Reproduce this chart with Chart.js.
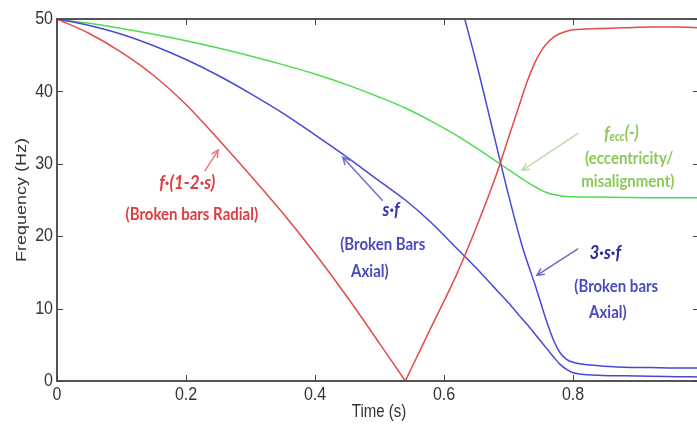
<!DOCTYPE html>
<html>
<head>
<meta charset="utf-8">
<script src="https://cdn.jsdelivr.net/npm/chart.js@4.4.0/dist/chart.umd.min.js"></script>
<style>
  html, body { margin: 0; padding: 0; background: #fff; overflow: hidden; }
  #wrap { position: absolute; left: 0; top: 0; width: 710px; height: 425px; }
</style>
</head>
<body>
<div id="wrap"><canvas id="chart" width="710" height="425"></canvas></div>
<script>
// time axis (s)
const time = [0, 0.05, 0.1, 0.15, 0.2, 0.25, 0.3, 0.35, 0.4, 0.45, 0.5, 0.54, 0.58, 0.62, 0.65, 0.68, 0.7, 0.72, 0.73, 0.74, 0.75, 0.76, 0.77, 0.78, 0.79, 0.8, 0.84, 0.88, 0.92, 0.96, 1.0];

// f·(1-2·s)  broken bars radial
const radial = [50, 48.0, 45.4, 42.2, 38.2, 33.4, 28.4, 23.2, 17.6, 11.6, 5.2, 0, 7.4, 14.8, 21.2, 28.2, 33.6, 39.0, 41.6, 43.8, 45.5, 46.7, 47.5, 48.0, 48.3, 48.5, 48.7, 48.8, 48.9, 48.9, 48.8];
// s·f  broken bars axial
const axial = [50, 49.1, 47.9, 46.3, 44.4, 42.2, 39.7, 37.0, 34.0, 30.9, 27.6, 25.0, 21.9, 18.3, 15.6, 12.7, 10.8, 8.7, 7.7, 6.6, 5.5, 4.4, 3.3, 2.3, 1.6, 1.15, 0.8, 0.72, 0.65, 0.6, 0.55];
// 3·s·f  (only the part that is inside the plot)
const axial3 = [null, null, null, null, null, null, null, null, null, null, null, null, null, 54, 44, 33, 25.7, 19.0, 16.2, 13.6, 10.8, 8.0, 5.6, 3.9, 3.0, 2.6, 2.1, 1.9, 1.85, 1.8, 1.8];
// f_ecc  eccentricity / misalignment
const ecc = [50, 49.4, 48.7, 47.9, 47.0, 46.0, 44.9, 43.7, 42.4, 40.9, 39.2, 37.7, 35.9, 33.9, 32.2, 30.4, 29.2, 28.0, 27.4, 26.9, 26.4, 26.0, 25.75, 25.6, 25.5, 25.45, 25.4, 25.35, 25.3, 25.3, 25.3];

const xTicks = [0, 0.2, 0.4, 0.6, 0.8];
const yTicks = [0, 10, 20, 30, 40, 50];

const RED = '#e34a4a';
const BLUE = '#4848d8';
const GREEN = '#4fdc4f';

function pts(arr, from = 0, to = time.length - 1) {
  const out = [];
  for (let i = from; i <= to; i++) out.push({ x: time[i], y: arr[i] });
  return out;
}
// the radial line has a sharp V where it touches zero
const vIdx = radial.indexOf(0);

// text notes: [text, t, value, color, font]
const notes = [
  ['f·(1-2·s)', 0.202, 27.4, '#e23a40', 'italic bold 17px Lato'],
  ['(Broken bars Radial)', 0.209, 23.0, '#e23a40', 'bold 15px Lato'],
  ['s·f', 0.518, 23.6, '#3434b0', 'italic bold 17px Lato'],
  ['(Broken Bars', 0.505, 18.9, '#4a4ac0', 'bold 15px Lato'],
  ['Axial)', 0.485, 15.2, '#4a4ac0', 'bold 15px Lato'],
  ['(eccentricity/', 0.887, 30.8, '#8cc85a', 'bold 15px Lato'],
  ['misalignment)', 0.885, 27.5, '#8cc85a', 'bold 15px Lato'],
  ['3·s·f', 0.85, 17.7, '#2a2aa0', 'italic bold 17px Lato'],
  ['(Broken bars', 0.867, 13.1, '#4a4ac0', 'bold 15px Lato'],
  ['Axial)', 0.854, 9.5, '#4a4ac0', 'bold 15px Lato']
];
// arrows: [t0, v0, t1, v1, color]  (tail -> head)
const arrows = [
  [0.229, 29.0, 0.25, 31.9, '#ec7a7a'],
  [0.505, 24.9, 0.443, 30.9, '#7070cc'],
  [0.808, 34.2, 0.721, 29.1, '#c0dca8'],
  [0.808, 18.3, 0.744, 14.6, '#6a6ad0']
];

function stretchText(ctx, txt, x, y, sy) {
  ctx.save();
  ctx.translate(x, y);
  ctx.scale(1, sy);
  ctx.fillText(txt, 0, 0);
  ctx.restore();
}

const decor = {
  id: 'decor',
  afterDatasetsDraw(chart) {
    const ctx = chart.ctx;
    const xs = chart.scales.x, ys = chart.scales.y;
    const a = chart.chartArea;
    ctx.save();
    // frame
    ctx.strokeStyle = '#555';
    ctx.lineWidth = 2;
    ctx.beginPath();
    ctx.moveTo(a.right, a.top); ctx.lineTo(a.left, a.top);
    ctx.lineTo(a.left, a.bottom); ctx.lineTo(a.right, a.bottom);
    ctx.lineTo(a.right, a.top);
    ctx.stroke();
    // inward ticks
    ctx.lineWidth = 1;
    ctx.strokeStyle = '#444';
    ctx.beginPath();
    xTicks.forEach(v => {
      const px = Math.round(xs.getPixelForValue(v)) + 0.5;
      ctx.moveTo(px, a.bottom); ctx.lineTo(px, a.bottom - 6);
      ctx.moveTo(px, a.top); ctx.lineTo(px, a.top + 6);
    });
    yTicks.forEach(v => {
      const py = Math.round(ys.getPixelForValue(v)) + 0.5;
      ctx.moveTo(a.left, py); ctx.lineTo(a.left + 6, py);
      ctx.moveTo(a.right, py); ctx.lineTo(a.right - 9, py);
    });
    ctx.stroke();

    // tick labels
    ctx.fillStyle = '#333';
    ctx.font = '16px "Liberation Sans", Arial, sans-serif';
    ctx.textAlign = 'center';
    ctx.textBaseline = 'top';
    xTicks.forEach(v => {
      stretchText(ctx, String(v), xs.getPixelForValue(v), a.bottom + 4, 1.2);
    });
    ctx.textAlign = 'right';
    ctx.textBaseline = 'middle';
    yTicks.forEach(v => {
      stretchText(ctx, String(v), a.left - 4, ys.getPixelForValue(v), 1.2);
    });

    // axis titles
    ctx.font = '15px "Liberation Sans", Arial, sans-serif';
    ctx.textAlign = 'center';
    ctx.textBaseline = 'middle';
    stretchText(ctx, 'Time (s)', 379, 412, 1.2);
    ctx.save();
    ctx.translate(22, 200);
    ctx.rotate(-Math.PI / 2);
    ctx.scale(1.2, 1);
    ctx.fillText('Frequency (Hz)', 0, 0);
    ctx.restore();

    // notes
    notes.forEach(n => {
      ctx.fillStyle = n[3];
      ctx.font = n[4];
      stretchText(ctx, n[0], xs.getPixelForValue(n[1]), ys.getPixelForValue(n[2]), 1.15);
    });
    // f_ecc(-) with subscript
    {
      const cx = xs.getPixelForValue(0.875), cy = ys.getPixelForValue(34.2);
      ctx.fillStyle = '#8cc85a';
      ctx.textAlign = 'left';
      ctx.font = 'italic bold 17px Lato';
      const w1 = ctx.measureText('f').width;
      ctx.font = 'italic bold 11px Lato';
      const w2 = ctx.measureText('ecc').width;
      ctx.font = 'italic bold 16px Lato';
      const w3 = ctx.measureText('(-)').width;
      let x0 = cx - (w1 + w2 + w3) / 2;
      ctx.font = 'italic bold 17px Lato';
      stretchText(ctx, 'f', x0, cy, 1.15);
      ctx.font = 'italic bold 11px Lato';
      stretchText(ctx, 'ecc', x0 + w1, cy + 4, 1.15);
      ctx.font = 'italic bold 16px Lato';
      stretchText(ctx, '(-)', x0 + w1 + w2, cy, 1.15);
    }

    // arrows
    arrows.forEach(r => {
      const x0 = xs.getPixelForValue(r[0]), y0 = ys.getPixelForValue(r[1]);
      const x1 = xs.getPixelForValue(r[2]), y1 = ys.getPixelForValue(r[3]);
      const ang = Math.atan2(y1 - y0, x1 - x0);
      ctx.strokeStyle = r[4];
      ctx.lineWidth = 1.5;
      ctx.beginPath();
      ctx.moveTo(x0, y0); ctx.lineTo(x1, y1);
      ctx.moveTo(x1 - 8 * Math.cos(ang - 0.45), y1 - 8 * Math.sin(ang - 0.45));
      ctx.lineTo(x1, y1);
      ctx.lineTo(x1 - 8 * Math.cos(ang + 0.45), y1 - 8 * Math.sin(ang + 0.45));
      ctx.stroke();
    });
    ctx.restore();
  }
};

new Chart(document.getElementById('chart'), {
  type: 'line',
  data: {
    datasets: [
      { label: 'f·(1-2·s)', data: pts(radial, 0, vIdx), borderColor: RED, borderWidth: 1.5, cubicInterpolationMode: 'monotone' },
      { label: 'f·(1-2·s) ', data: pts(radial, vIdx), borderColor: RED, borderWidth: 1.5, cubicInterpolationMode: 'monotone' },
      { label: 's·f', data: pts(axial), borderColor: BLUE, borderWidth: 1.5, cubicInterpolationMode: 'monotone' },
      { label: '3·s·f', data: pts(axial3), borderColor: BLUE, borderWidth: 1.5, cubicInterpolationMode: 'monotone' },
      { label: 'f_ecc', data: pts(ecc), borderColor: GREEN, borderWidth: 1.5, cubicInterpolationMode: 'monotone' }
    ]
  },
  options: {
    responsive: false,
    animation: false,
    layout: { padding: { top: 19, right: 8, left: 0, bottom: 0 } },
    elements: { point: { radius: 0 } },
    plugins: { legend: { display: false }, tooltip: { enabled: false } },
    scales: {
      x: {
        type: 'linear', min: 0, max: 1,
        ticks: { display: false }, grid: { display: false }, border: { display: false },
        afterFit: s => { s.height = 44; }
      },
      y: {
        min: 0, max: 50,
        ticks: { display: false }, grid: { display: false }, border: { display: false },
        afterFit: s => { s.width = 57; }
      }
    }
  },
  plugins: [decor]
});
</script>
</body>
</html>
